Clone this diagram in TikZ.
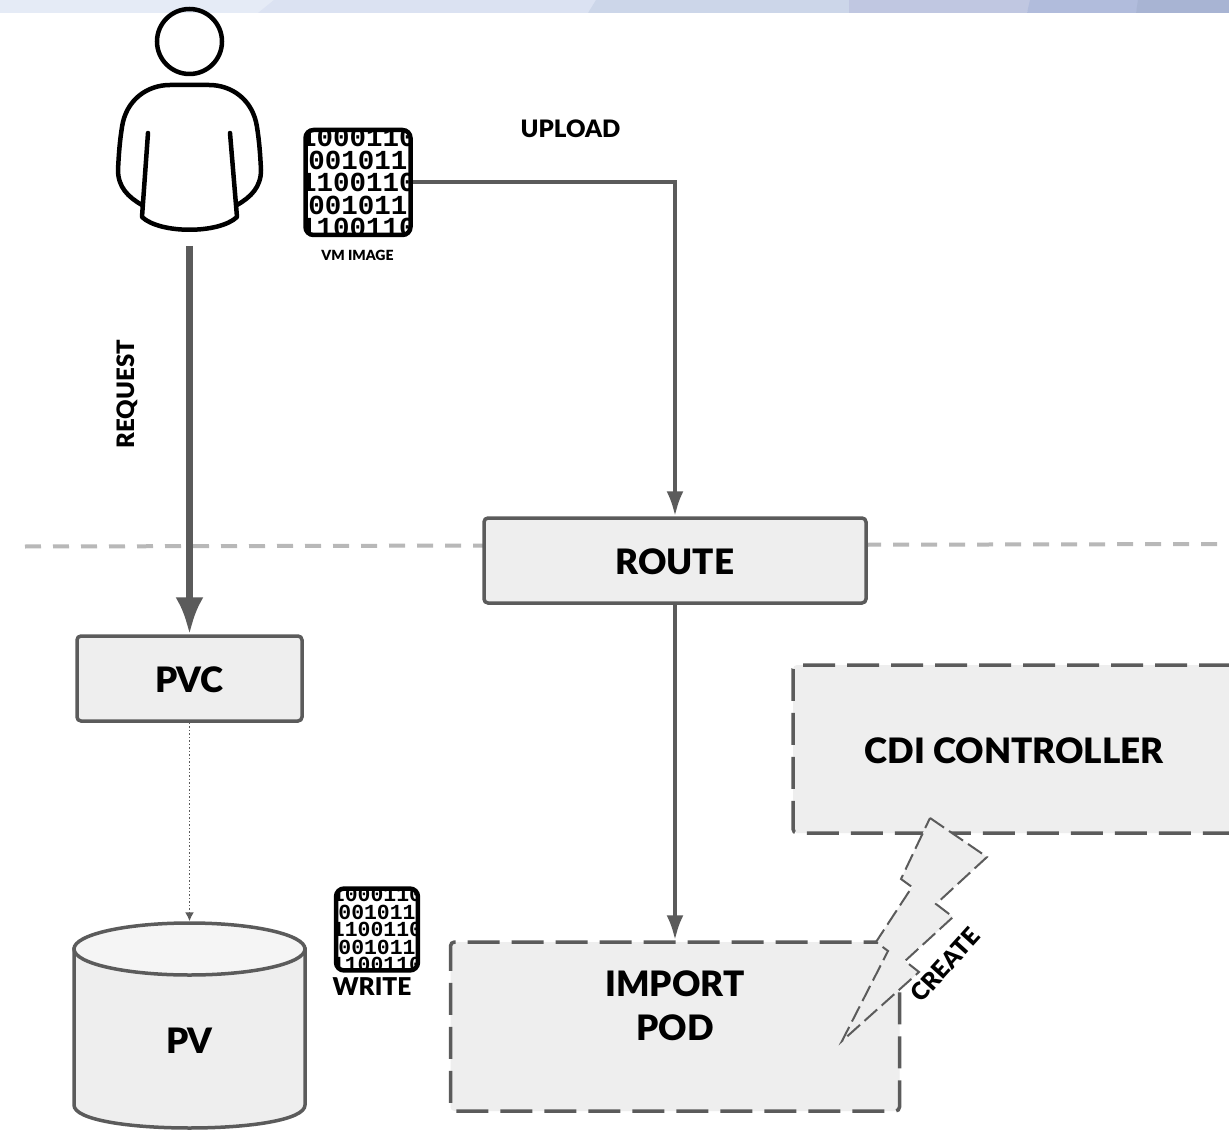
\documentclass[tikz,border=0pt]{standalone}
\usepackage{fontspec}
\setmainfont{Lato}[BoldFont=Lato Black]
\newfontfamily\digitfont{Liberation Mono}
\usetikzlibrary{positioning,arrows.meta,shapes.geometric}
\definecolor{boxgray}{HTML}{EEEEEE}
\definecolor{linegray}{HTML}{5B5B5B}
\tikzset{box/.style={rectangle,draw=linegray,fill=boxgray,line width=3.5pt,rounded corners=4pt,inner sep=0pt,font=\fontsize{35}{44}\selectfont\bfseries,align=center,text height=28pt,text depth=0pt},
	 dashbox/.style={box,dash pattern=on 32pt off 12pt},
	 flow/.style={draw=linegray,line width=4pt,-{Latex[length=25pt,width=17pt]}},
	 caption/.style={font=\fontsize{#1}{#1}\selectfont\bfseries,inner sep=0pt},
	 binimage/.style={rectangle,draw=black,line width=4.5pt,rounded corners=8pt,inner sep=0pt,minimum size=105*#1,
		path picture={\foreach \r/\t in {-2/1000110,-1/001011,0/1100110,1/001011,2/1100110}
			\node[scale=#1,inner sep=0pt] at ([yshift=-22.5*\r*#1]path picture bounding box.center) {\digitfont\bfseries\fontsize{27.5}{27.5}\selectfont\t};}},
	 usr/.style={line width=4.5pt,line cap=round,line join=round}
	 }
\begin{document}
\begin{tikzpicture}[x=1pt,y=-1pt]
	\useasboundingbox (0,0) rectangle (1229,1131);
	% band along the top
	\fill[fill=white] (0,0) rectangle (1229,1131);
	\fill[fill={rgb,255:red,229;green,235;blue,246}] (0,0) rectangle (280,13);
	\fill[fill={rgb,255:red,219;green,226;blue,242}] (274,0) -- (600,0) -- (588,13) -- (258,13) -- cycle;
	\fill[fill={rgb,255:red,204;green,214;blue,233}] (596,0) -- (855,0) -- (849,13) -- (588,13) -- cycle;
	\fill[fill={rgb,255:red,192;green,199;blue,225}] (849,0) -- (1032,0) -- (1027,13) -- (849,13) -- cycle;
	\fill[fill={rgb,255:red,177;green,188;blue,220}] (1030,0) -- (1140,0) -- (1136,13) -- (1027,13) -- cycle;
	\fill[fill={rgb,255:red,168;green,180;blue,211}] (1138,0) -- (1229,0) -- (1229,13) -- (1136,13) -- cycle;
	% boundary
	\coordinate (bl) at (25,546.5); \coordinate (br) at (1229,544);
	\draw[draw=black!28,line width=4pt,dash pattern=on 16pt off 12pt] (bl) to (br);
	% user
	\node[circle,draw=black,line width=4.5pt,inner sep=0pt,minimum size=65pt] (head) at (189.5,41.5) {};
	\draw[usr] (142,205) .. controls (128,197) and (118,187) .. (118,170)
		.. controls (119,150) and (120,140) .. (122,127) .. controls (126,100) and (147,85) .. (170,85)
		-- (209,85) .. controls (232,85) and (253,100) .. (257,127)
		.. controls (259,140) and (260,150) .. (261,170) .. controls (261,187) and (251,197) .. (237,205);
	\draw[usr] (148,133) -- (142,217) .. controls (160,234) and (219,234) .. (237,217) -- (230,133);
	\coordinate (usr) at (189.5,246);
	% boxes
	\node[box,minimum width=382pt,minimum height=85pt] (route) at (675,560.5) {ROUTE};
	\node[box,minimum width=225pt,minimum height=85pt] (pvc) at (189.5,678.5) {PVC};
	\node[dashbox,minimum width=442pt,minimum height=168pt] (ctrl) at (1014,749) {CDI CONTROLLER};
	\node[dashbox,minimum width=449pt,minimum height=169pt] (pod) at (675,1026.5) {IMPORT\\POD};
	% cylinder
	\draw[draw=linegray,fill=boxgray,line width=3.5pt] (74,949) -- (74,1105) .. controls (74,1120) and (130,1128) .. (189.5,1128)
		.. controls (249,1128) and (305,1120) .. (305,1105) -- (305,949) -- cycle;
	\node[ellipse,draw=linegray,fill=boxgray!60!white,line width=3.5pt,minimum width=231pt,minimum height=52pt,inner sep=0pt] (pvtop) at (189.5,949) {};
	\node[font=\fontsize{35}{35}\selectfont\bfseries,inner sep=0pt] (pv) at (189.5,1041) {PV};
	% images
	\node[binimage=1] (vmimage) at (358,182.5) {};
	\node[binimage=0.78] (wrimage) at (377,929.5) {};
	\node[caption=14] (vmlabel) at (357.5,255) {VM IMAGE};
	\node[caption=24.5] (wrlabel) at (372,987) {WRITE};
	\node[caption=24] (uplabel) at (570.5,129) {UPLOAD};
	\node[caption=24,rotate=90] (reqlabel) at (127,394) {REQUEST};
	% connectors
	\draw[draw=linegray,line width=7pt,-{Latex[length=37pt,width=28pt]}] (usr) to (pvc);
	\draw[flow] (vmimage) -| (route);
	\draw[flow] (route) to (pod);
	\draw[draw=linegray,line width=1.5pt,dotted,-{Latex[length=9pt,width=9pt]}] (pvc) to (pvtop);
	% spark
	\draw[fill=boxgray,draw=linegray,line width=2pt,dash pattern=on 17pt off 6pt,line join=miter]
		(930,818) -- (987,857) -- (936,904) -- (953,917) -- (905,961) -- (919,972) -- (842,1041)
		-- (888,951) -- (876,942) -- (912,887) -- (901,879) -- cycle;
	\node[caption=24,rotate=48] (crlabel) at (945,965) {CREATE};
\end{tikzpicture}
\end{document}
